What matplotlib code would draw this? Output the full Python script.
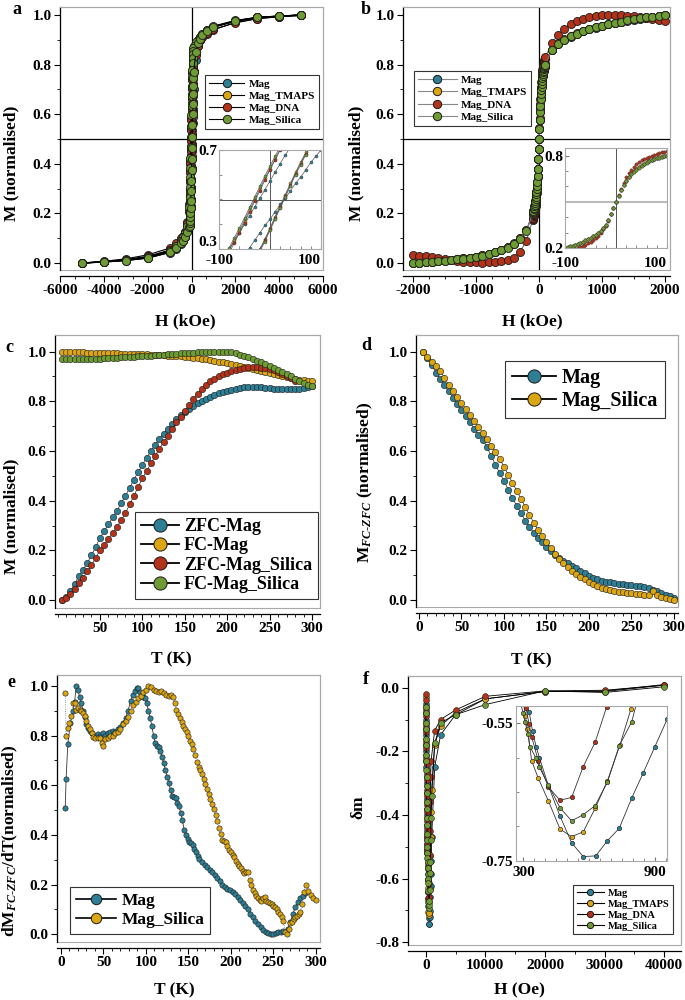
import matplotlib
matplotlib.use("Agg")
import matplotlib.pyplot as plt
from matplotlib.lines import Line2D
from matplotlib.patches import Rectangle
from matplotlib.ticker import AutoMinorLocator, MultipleLocator

plt.rcParams["font.family"] = ["Liberation Serif", "DejaVu Serif"]
plt.rcParams["font.weight"] = "bold"
plt.rcParams["axes.labelweight"] = "bold"
plt.rcParams["axes.unicode_minus"] = False
plt.rcParams["mathtext.fontset"] = "custom"
plt.rcParams["mathtext.rm"] = "Liberation Serif:bold"
plt.rcParams["mathtext.it"] = "Liberation Serif:italic:bold"
plt.rcParams["mathtext.bf"] = "Liberation Serif:bold"

# sample colours
C_MAG = "#2E7F95"
C_TMA = "#DCA512"
C_DNA = "#B3331A"
C_SIL = "#6E9B33"
GREY = "#a8a8a8"

samples = ["Mag", "Mag_TMAPS", "Mag_DNA", "Mag_Silica"]
sample_colors = [C_MAG, C_TMA, C_DNA, C_SIL]

# ---------------- (a) hysteresis loops ----------------
ha_down = [5000, 4000, 3000, 2000, 1000, 700, 500, 400, 300, 200,
           100, 90, 80, 70, 60, 50, 40, 30, 20, 10, 0,
           -10, -20, -30, -40, -50, -60, -70, -80, -90, -100,
           -200, -300, -400, -500, -700, -1000, -2000, -3000, -4000, -5000]
ha_up = [-5000, -4000, -3000, -2000, -1000, -700, -500, -400, -300, -200,
         -100, -90, -80, -70, -60, -50, -40, -30, -20, -10, 0,
         10, 20, 30, 40, 50, 60, 70, 80, 90, 100,
         200, 300, 400, 500, 700, 1000, 2000, 3000, 4000, 5000]

ma_mag_down = [1.0, 0.995, 0.988, 0.975, 0.95, 0.935, 0.92, 0.905, 0.89, 0.865,
               0.835, 0.82, 0.805, 0.785, 0.765, 0.74, 0.71, 0.68, 0.645, 0.61, 0.575,
               0.54, 0.505, 0.47, 0.435, 0.4, 0.365, 0.33, 0.3, 0.27, 0.24,
               0.165, 0.125, 0.105, 0.09, 0.07, 0.05, 0.024, 0.012, 0.005, 0.0]
ma_mag_up = [0.0, 0.004, 0.01, 0.02, 0.042, 0.058, 0.076, 0.09, 0.105, 0.13,
             0.16, 0.18, 0.2, 0.22, 0.25, 0.275, 0.305, 0.335, 0.365, 0.395, 0.42,
             0.45, 0.48, 0.505, 0.535, 0.565, 0.59, 0.62, 0.65, 0.675, 0.7,
             0.82, 0.875, 0.9, 0.915, 0.935, 0.952, 0.975, 0.99, 0.995, 1.0]
ma_tma_down = [1.0, 0.995, 0.99, 0.977, 0.953, 0.938, 0.922, 0.91, 0.897, 0.885,
               0.87, 0.86, 0.848, 0.833, 0.815, 0.795, 0.77, 0.74, 0.705, 0.665, 0.625,
               0.585, 0.543, 0.5, 0.458, 0.415, 0.375, 0.335, 0.295, 0.255, 0.215,
               0.155, 0.12, 0.1, 0.088, 0.068, 0.048, 0.024, 0.012, 0.005, 0.0]
ma_tma_up = [0.0, 0.004, 0.011, 0.021, 0.044, 0.061, 0.08, 0.092, 0.107, 0.128,
             0.15, 0.155, 0.163, 0.175, 0.19, 0.205, 0.228, 0.26, 0.3, 0.34, 0.385,
             0.43, 0.475, 0.52, 0.565, 0.61, 0.65, 0.69, 0.722, 0.75, 0.775,
             0.848, 0.882, 0.903, 0.918, 0.936, 0.951, 0.976, 0.99, 0.996, 0.998]
ma_dna_down = [0.998, 0.993, 0.985, 0.97, 0.94, 0.925, 0.91, 0.9, 0.88, 0.87,
               0.86, 0.852, 0.842, 0.83, 0.812, 0.792, 0.768, 0.738, 0.7, 0.66, 0.62,
               0.578, 0.535, 0.492, 0.45, 0.407, 0.365, 0.325, 0.285, 0.245, 0.205,
               0.16, 0.125, 0.11, 0.1, 0.08, 0.06, 0.033, 0.017, 0.007, 0.0]
ma_dna_up = [0.0, 0.006, 0.014, 0.027, 0.052, 0.068, 0.088, 0.1, 0.112, 0.13,
             0.148, 0.155, 0.162, 0.172, 0.185, 0.2, 0.222, 0.255, 0.295, 0.335, 0.38,
             0.425, 0.47, 0.515, 0.56, 0.605, 0.645, 0.685, 0.72, 0.748, 0.772,
             0.84, 0.875, 0.898, 0.912, 0.928, 0.942, 0.968, 0.985, 0.993, 0.998]
ma_sil_down = [1.0, 0.996, 0.99, 0.978, 0.955, 0.94, 0.925, 0.912, 0.9, 0.89,
               0.875, 0.865, 0.855, 0.842, 0.825, 0.805, 0.78, 0.75, 0.715, 0.675, 0.635,
               0.595, 0.553, 0.51, 0.468, 0.425, 0.385, 0.345, 0.305, 0.265, 0.225,
               0.15, 0.12, 0.105, 0.09, 0.07, 0.05, 0.025, 0.013, 0.006, 0.0]
ma_sil_up = [0.0, 0.004, 0.01, 0.02, 0.043, 0.06, 0.08, 0.09, 0.105, 0.125,
             0.145, 0.15, 0.16, 0.17, 0.185, 0.2, 0.22, 0.25, 0.29, 0.33, 0.375,
             0.42, 0.465, 0.51, 0.555, 0.6, 0.64, 0.68, 0.715, 0.745, 0.77,
             0.85, 0.885, 0.905, 0.92, 0.937, 0.952, 0.975, 0.99, 0.995, 1.0]

# ---------------- (b) magnetisation curves ----------------
hb = [-2000, -1900, -1800, -1700, -1600, -1500, -1400, -1300, -1200, -1100,
      -1000, -900, -800, -700, -600, -500, -400, -300, -200,
      -100, -95, -90, -85, -80, -75, -70, -65, -60, -55,
      -50, -45, -40, -35, -30, -25, -20, -15, -10, -5,
      0, 5, 10, 15, 20, 25, 30, 35, 40, 45,
      50, 55, 60, 65, 70, 75, 80, 85, 90, 95, 100,
      200, 300, 400, 500, 600, 700, 800, 900, 1000,
      1100, 1200, 1300, 1400, 1500, 1600, 1700, 1800, 1900, 2000]
mb_mag = [0.0, 0.002, 0.004, 0.006, 0.008, 0.011, 0.013, 0.016, 0.019, 0.022,
          0.026, 0.031, 0.037, 0.044, 0.053, 0.064, 0.079, 0.1, 0.133,
          0.2, 0.205, 0.21, 0.215, 0.221, 0.227, 0.234, 0.241, 0.249, 0.257,
          0.266, 0.276, 0.286, 0.297, 0.31, 0.327, 0.35, 0.38, 0.42, 0.46,
          0.5, 0.539, 0.576, 0.608, 0.637, 0.661, 0.682, 0.698, 0.712, 0.725,
          0.737, 0.747, 0.757, 0.764, 0.771, 0.777, 0.783, 0.788, 0.793, 0.797, 0.801,
          0.857, 0.882, 0.9, 0.913, 0.924, 0.934, 0.942, 0.949, 0.956,
          0.962, 0.967, 0.972, 0.977, 0.981, 0.985, 0.989, 0.993, 0.996, 0.999]
mb_tma = [0.0, 0.002, 0.004, 0.006, 0.008, 0.01, 0.013, 0.016, 0.019, 0.022,
          0.026, 0.031, 0.037, 0.044, 0.053, 0.063, 0.078, 0.1, 0.132,
          0.198, 0.203, 0.208, 0.214, 0.22, 0.226, 0.233, 0.24, 0.248, 0.256,
          0.265, 0.275, 0.285, 0.297, 0.31, 0.327, 0.35, 0.38, 0.42, 0.46,
          0.5, 0.54, 0.578, 0.611, 0.64, 0.664, 0.685, 0.701, 0.715, 0.728,
          0.74, 0.749, 0.758, 0.766, 0.773, 0.779, 0.785, 0.79, 0.795, 0.799, 0.803,
          0.86, 0.885, 0.902, 0.915, 0.926, 0.936, 0.944, 0.951, 0.957,
          0.963, 0.968, 0.973, 0.978, 0.982, 0.986, 0.99, 0.993, 0.996, 0.999]
mb_dna = [0.032, 0.03, 0.027, 0.024, 0.02, 0.016, 0.012, 0.009, 0.006, 0.004,
          0.003, 0.002, 0.003, 0.005, 0.008, 0.013, 0.022, 0.045, 0.09,
          0.175, 0.179, 0.183, 0.188, 0.193, 0.199, 0.205, 0.212, 0.22, 0.23,
          0.24, 0.252, 0.265, 0.281, 0.3, 0.321, 0.345, 0.378, 0.42, 0.46,
          0.5, 0.543, 0.585, 0.625, 0.66, 0.688, 0.71, 0.729, 0.745, 0.758,
          0.77, 0.779, 0.787, 0.794, 0.8, 0.806, 0.812, 0.817, 0.822, 0.826, 0.83,
          0.885, 0.92, 0.945, 0.962, 0.975, 0.985, 0.992, 0.997, 1.0,
          1.0, 1.0, 0.999, 0.997, 0.995, 0.992, 0.988, 0.984, 0.98, 0.976]
mb_sil = [0.0, 0.002, 0.004, 0.006, 0.008, 0.01, 0.012, 0.015, 0.018, 0.021,
          0.025, 0.03, 0.036, 0.043, 0.052, 0.062, 0.077, 0.098, 0.13,
          0.2, 0.205, 0.21, 0.216, 0.222, 0.228, 0.235, 0.242, 0.25, 0.258,
          0.267, 0.277, 0.287, 0.298, 0.31, 0.327, 0.35, 0.38, 0.42, 0.46,
          0.5, 0.54, 0.575, 0.607, 0.635, 0.66, 0.68, 0.696, 0.71, 0.723,
          0.735, 0.745, 0.755, 0.763, 0.77, 0.776, 0.782, 0.787, 0.792, 0.796, 0.8,
          0.858, 0.883, 0.9, 0.914, 0.925, 0.935, 0.943, 0.95, 0.957,
          0.963, 0.968, 0.973, 0.978, 0.982, 0.986, 0.99, 0.993, 0.996, 1.0]

# ---------------- (c) ZFC / FC ----------------
tc = [5, 10, 15, 20, 25, 30, 35, 40, 45, 50,
      55, 60, 65, 70, 75, 80, 85, 90, 95, 100,
      105, 110, 115, 120, 125, 130, 135, 140, 145, 150,
      155, 160, 165, 170, 175, 180, 185, 190, 195, 200,
      205, 210, 215, 220, 225, 230, 235, 240, 245, 250,
      255, 260, 265, 270, 275, 280, 285, 290, 295, 300]
zfc_mag = [0.0, 0.012, 0.035, 0.065, 0.095, 0.122, 0.15, 0.18, 0.215, 0.25,
           0.278, 0.305, 0.333, 0.36, 0.39, 0.42, 0.452, 0.485, 0.515, 0.545,
           0.573, 0.6, 0.625, 0.648, 0.67, 0.69, 0.71, 0.728, 0.743, 0.757,
           0.77, 0.782, 0.792, 0.802, 0.81, 0.818, 0.826, 0.833, 0.838, 0.843,
           0.847, 0.85, 0.853, 0.856, 0.857, 0.858, 0.857, 0.856, 0.854, 0.853,
           0.851, 0.85, 0.849, 0.849, 0.849, 0.85, 0.851, 0.853, 0.856, 0.86]
fc_mag = [1.0, 0.999, 0.998, 0.998, 0.997, 0.997, 0.996, 0.996, 0.995, 0.995,
          0.994, 0.994, 0.993, 0.993, 0.992, 0.992, 0.991, 0.991, 0.99, 0.99,
          0.989, 0.988, 0.987, 0.986, 0.985, 0.984, 0.983, 0.982, 0.981, 0.98,
          0.978, 0.976, 0.974, 0.971, 0.969, 0.966, 0.963, 0.96, 0.957, 0.953,
          0.95, 0.946, 0.943, 0.939, 0.935, 0.931, 0.927, 0.922, 0.918, 0.913,
          0.909, 0.905, 0.901, 0.897, 0.893, 0.89, 0.887, 0.885, 0.882, 0.88]
zfc_sil = [0.0, 0.008, 0.025, 0.045, 0.068, 0.09, 0.115, 0.14, 0.17, 0.2,
           0.222, 0.245, 0.27, 0.295, 0.322, 0.35, 0.385, 0.42, 0.455, 0.49,
           0.52, 0.55, 0.58, 0.61, 0.635, 0.66, 0.688, 0.715, 0.738, 0.76,
           0.785, 0.81, 0.83, 0.85, 0.865, 0.88, 0.89, 0.9, 0.908, 0.915,
           0.922, 0.928, 0.932, 0.936, 0.937, 0.938, 0.937, 0.935, 0.933, 0.93,
           0.925, 0.92, 0.912, 0.903, 0.893, 0.88]
fc_sil = [0.97, 0.97, 0.97, 0.97, 0.97, 0.97, 0.97, 0.971, 0.971, 0.972,
          0.973, 0.974, 0.975, 0.976, 0.977, 0.978, 0.979, 0.98, 0.981, 0.982,
          0.983, 0.984, 0.986, 0.987, 0.988, 0.99, 0.991, 0.992, 0.993, 0.994,
          0.995, 0.996, 0.997, 0.998, 0.998, 0.999, 0.999, 0.999, 0.999, 1.0,
          0.998, 0.993, 0.988, 0.983, 0.977, 0.971, 0.964, 0.957, 0.95, 0.943,
          0.935, 0.927, 0.918, 0.909, 0.9, 0.891, 0.882, 0.874, 0.866, 0.86]

# ---------------- (d) FC - ZFC ----------------
d_mag = [1.0, 0.975, 0.945, 0.915, 0.89, 0.865, 0.84, 0.815, 0.79, 0.765,
         0.74, 0.715, 0.69, 0.665, 0.645, 0.615, 0.58, 0.545, 0.51, 0.48,
         0.445, 0.41, 0.38, 0.35, 0.32, 0.295, 0.27, 0.25, 0.232, 0.215,
         0.198, 0.183, 0.17, 0.158, 0.148, 0.138, 0.128, 0.118, 0.108, 0.098,
         0.09, 0.083, 0.078, 0.074, 0.071, 0.068, 0.065, 0.063, 0.061, 0.059,
         0.057, 0.055, 0.052, 0.048, 0.042, 0.035, 0.028, 0.022, 0.016, 0.01]
d_sil = [1.0, 0.978, 0.96, 0.942, 0.922, 0.895, 0.866, 0.84, 0.816, 0.793,
         0.77, 0.745, 0.72, 0.697, 0.673, 0.648, 0.622, 0.595, 0.567, 0.537,
         0.505, 0.472, 0.44, 0.408, 0.375, 0.343, 0.312, 0.283, 0.256, 0.232,
         0.208, 0.186, 0.166, 0.148, 0.132, 0.118, 0.105, 0.093, 0.083, 0.074,
         0.065, 0.057, 0.05, 0.044, 0.04, 0.036, 0.033, 0.031, 0.029, 0.027,
         0.025, 0.023, 0.021, 0.02, 0.035, 0.02, 0.013, 0.008, 0.004, 0.0]

# ---------------- (e) derivative ----------------
te_mag = [5, 6, 8, 11, 14, 16, 18, 20, 22, 24,
          26, 28, 30, 32, 34, 37, 40, 43, 46, 49,
          52, 55, 58, 61, 64, 67, 70, 73, 76, 79,
          82, 85, 87, 89, 91, 93, 95, 97, 99, 101,
          103, 105, 107, 109, 111, 113, 115, 117, 119, 121,
          123, 125, 127, 129, 131, 133, 135, 137, 139, 141,
          143, 145, 147, 149, 151, 153, 155, 157, 159, 161,
          163, 166, 169, 172, 175, 178, 181, 184, 187, 190,
          193, 196, 199, 202, 205, 208, 211, 214, 217, 220,
          223, 226, 229, 232, 235, 238, 241, 244, 247, 250,
          253, 256, 259, 262, 265, 267, 270, 273, 276, 279,
          282, 285, 287]
e_mag = [0.51, 0.625, 0.765, 0.85, 0.9, 0.935, 1.0, 0.985, 0.955, 0.93,
         0.9, 0.875, 0.845, 0.83, 0.82, 0.81, 0.8, 0.805, 0.8, 0.81,
         0.8, 0.81, 0.815, 0.82, 0.815, 0.825, 0.835, 0.85, 0.87, 0.9,
         0.94, 0.965, 0.98, 0.99, 0.99, 0.975, 0.96, 0.955, 0.95, 0.93,
         0.9, 0.87, 0.84, 0.8, 0.77, 0.76, 0.755, 0.74, 0.715, 0.69,
         0.66, 0.635, 0.61, 0.58, 0.556, 0.552, 0.548, 0.53, 0.515, 0.49,
         0.46, 0.42, 0.4, 0.385, 0.37, 0.366, 0.36, 0.345, 0.33, 0.315,
         0.305, 0.29, 0.28, 0.27, 0.26, 0.25, 0.24, 0.228, 0.215, 0.2,
         0.19, 0.182, 0.178, 0.172, 0.162, 0.152, 0.14, 0.128, 0.115, 0.1,
         0.083, 0.068, 0.055, 0.04, 0.028, 0.018, 0.01, 0.004, 0.0, 0.001,
         0.004, 0.008, 0.01, 0.012, 0.012, 0.02, 0.05, 0.08, 0.11, 0.13,
         0.145, 0.155, 0.165]
te_sil = [5, 6, 8, 10, 12, 14, 16, 18, 20, 22,
          24, 26, 28, 30, 32, 34, 36, 38, 40, 43,
          46, 48, 50, 52, 55, 58, 61, 64, 67, 70,
          73, 76, 79, 82, 85, 88, 91, 94, 97, 100,
          103, 106, 109, 112, 115, 118, 121, 124, 127, 130,
          132, 134, 136, 138, 140, 142, 144, 146, 148, 150,
          152, 154, 156, 158, 160, 162, 164, 166, 168, 170,
          172, 174, 176, 178, 180, 182, 184, 186, 188, 190,
          192, 194, 196, 198, 200, 202, 204, 206, 208, 210,
          212, 214, 216, 218, 220, 222, 224, 226, 228, 230,
          232, 234, 236, 238, 240, 242, 244, 246, 248, 250,
          252, 254, 256, 258, 260, 262, 264, 266, 268, 270,
          272, 274, 276, 278, 280, 282, 284, 286, 288, 291,
          294, 297, 300]
e_sil = [0.97, 0.8, 0.83, 0.85, 0.88, 0.93, 0.93, 0.905, 0.91, 0.905,
         0.9, 0.89, 0.88, 0.86, 0.84, 0.825, 0.81, 0.795, 0.79, 0.79,
         0.79, 0.77, 0.76, 0.785, 0.79, 0.8, 0.8, 0.81, 0.815, 0.825,
         0.845, 0.86, 0.875, 0.9, 0.925, 0.935, 0.95, 0.96, 0.975, 0.985,
         1.0, 0.995, 0.985, 0.98, 0.975, 0.98, 0.97, 0.965, 0.96, 0.965,
         0.955, 0.93, 0.905, 0.885, 0.87, 0.855, 0.84, 0.825, 0.815, 0.8,
         0.78, 0.765, 0.745, 0.72, 0.695, 0.675, 0.66, 0.645, 0.625, 0.605,
         0.585, 0.565, 0.545, 0.525, 0.505, 0.48, 0.455, 0.43, 0.405, 0.38,
         0.375, 0.37, 0.355, 0.34, 0.33, 0.32, 0.31, 0.295, 0.285, 0.275,
         0.265, 0.255, 0.245, 0.25, 0.25, 0.22, 0.2, 0.18, 0.165, 0.155,
         0.145, 0.14, 0.135, 0.145, 0.15, 0.135, 0.13, 0.125, 0.12, 0.115,
         0.11, 0.1, 0.09, 0.08, 0.07, 0.055, 0.01, 0.0, 0.02, 0.045,
         0.05, 0.06, 0.07, 0.075, 0.08, 0.09, 0.12, 0.17, 0.2, 0.175,
         0.16, 0.145, 0.14]

# ---------------- (f) delta-m ----------------
hf_mag = [0, 15, 30, 45, 60, 75, 90, 105, 120, 135, 150, 165, 180, 195, 210,
          225, 240, 255, 270, 285, 300,
          326, 342, 358, 373, 414, 467, 520, 573, 630, 683, 737, 794, 847, 900, 956,
          1000, 1500, 2500, 5000, 10000, 20000, 30000, 40000]
dm_mag = [-0.05, -0.08, -0.1, -0.13, -0.15, -0.18, -0.2, -0.23, -0.25, -0.28, -0.3,
          -0.33, -0.35, -0.38, -0.4, -0.43, -0.45, -0.47, -0.49, -0.51, -0.52,
          -0.533, -0.562, -0.584, -0.6, -0.641, -0.685, -0.724, -0.744, -0.743,
          -0.721, -0.703, -0.659, -0.622, -0.584, -0.544,
          -0.47, -0.25, -0.148, -0.085, -0.035, -0.012, -0.012, 0.008]
hf_tma = [0, 15, 30, 45, 60, 75, 90, 105, 120, 135, 150, 165, 180, 195, 210,
          225, 240, 255, 270, 285, 300,
          309, 318, 338, 368, 414, 467, 520, 573, 627, 683, 740, 790,
          850, 900, 1000, 1500, 2500, 5000, 10000, 20000, 30000, 40000]
dm_tma = [-0.03, -0.06, -0.08, -0.11, -0.13, -0.16, -0.18, -0.21, -0.23, -0.26, -0.28,
          -0.31, -0.33, -0.36, -0.38, -0.41, -0.43, -0.46, -0.48, -0.5, -0.52,
          -0.539, -0.559, -0.605, -0.63, -0.663, -0.704, -0.715, -0.708, -0.674,
          -0.634, -0.582, -0.53,
          -0.47, -0.39, -0.32, -0.18, -0.12, -0.078, -0.035, -0.012, -0.01, 0.01]
hf_dna = [0, 15, 30, 45, 60, 75, 90, 105, 120, 135, 150, 165, 180, 195, 210,
          225, 240, 255, 270, 285, 300,
          312, 326, 338, 368, 414, 467, 520, 573, 627, 680,
          730, 780, 830, 900, 1500, 2500, 5000, 10000, 20000, 30000, 40000]
dm_dna = [-0.02, -0.04, -0.07, -0.09, -0.12, -0.14, -0.17, -0.19, -0.22, -0.24, -0.27,
          -0.29, -0.32, -0.34, -0.37, -0.39, -0.42, -0.44, -0.47, -0.49, -0.51,
          -0.528, -0.551, -0.57, -0.605, -0.643, -0.662, -0.658, -0.613, -0.578, -0.526,
          -0.45, -0.36, -0.28, -0.23, -0.135, -0.1, -0.07, -0.027, -0.01, -0.008, 0.008]
hf_sil = [0, 15, 30, 45, 60, 75, 90, 105, 120, 135, 150, 165, 180, 195, 210,
          225, 240, 255, 270, 285, 300,
          307, 322, 330, 356, 373, 414, 467, 520, 573, 627, 683, 737, 794,
          850, 900, 1000, 1500, 2500, 5000, 10000, 20000, 30000, 40000]
dm_sil = [-0.06, -0.08, -0.11, -0.13, -0.16, -0.18, -0.21, -0.23, -0.26, -0.28, -0.31,
          -0.33, -0.36, -0.38, -0.41, -0.43, -0.46, -0.48, -0.5, -0.52, -0.535,
          -0.548, -0.565, -0.584, -0.6, -0.614, -0.64, -0.673, -0.692, -0.683,
          -0.67, -0.636, -0.583, -0.548,
          -0.48, -0.41, -0.34, -0.175, -0.11, -0.085, -0.053, -0.01, -0.015, 0.003]


fig = plt.figure(figsize=(6.85, 10), dpi=100)


def px_rect(l, t, r, b):
    # pixel box -> figure fraction
    return [l / 685, 1 - b / 1000, (r - l) / 685, (b - t) / 1000]


def style_main(ax, xlim, ylim, xminor, ystep=0.2):
    ax.set_xlim(*xlim)
    ax.set_ylim(*ylim)
    ax.xaxis.set_minor_locator(AutoMinorLocator(xminor))
    ax.yaxis.set_major_locator(MultipleLocator(ystep))
    ax.yaxis.set_minor_locator(AutoMinorLocator(2))
    ax.spines["top"].set_color(GREY)
    ax.spines["right"].set_color(GREY)
    ax.spines["bottom"].set_position(("outward", 4))
    for s in ["left", "bottom"]:
        ax.spines[s].set_linewidth(0.9)
    ax.add_patch(Rectangle((0, 0), 1, 1, transform=ax.transAxes, fill=False,
                           ec=GREY, lw=0.8, clip_on=False, zorder=0))
    ax.tick_params(which="major", direction="out", length=4, width=0.8,
                   labelsize=11, pad=2)
    ax.tick_params(which="minor", direction="out", length=2.3, width=0.6)


def set_labels(ax, xl, yl, xpos, ypos):
    ax.set_xlabel(xl, fontsize=12.5)
    ax.set_ylabel(yl, fontsize=12.5)
    ax.xaxis.set_label_coords(*xpos)
    ax.yaxis.set_label_coords(*ypos)
    ax.xaxis.label.set_va("center")
    ax.yaxis.label.set_va("center")


def style_inset(ax, xlim, ylim, xt, yt, xmin, ymin, xpad=4):
    ax.set_xlim(*xlim)
    ax.set_ylim(*ylim)
    for s in ax.spines.values():
        s.set_color(GREY)
        s.set_linewidth(0.8)
    ax.set_xticks(xt)
    ax.set_yticks(yt)
    ax.xaxis.set_minor_locator(MultipleLocator(xmin))
    ax.yaxis.set_minor_locator(MultipleLocator(ymin))
    ax.tick_params(which="both", direction="in", color="#777777", labelsize=11, pad=1.5)
    ax.tick_params(axis="x", which="both", pad=xpad)
    ax.tick_params(which="major", length=3)
    ax.tick_params(which="minor", length=2)


def add_legend(ax, handles, labels, x, y, size, hl, ls, hp=0.4):
    leg = ax.legend(handles, labels, loc="upper left", bbox_to_anchor=(x / 685, 1 - y / 1000),
                    bbox_transform=fig.transFigure, fontsize=size, fancybox=False,
                    edgecolor="#333333", framealpha=1, borderaxespad=0, handlelength=hl,
                    labelspacing=ls, handletextpad=hp, borderpad=0.35)
    leg.get_frame().set_linewidth(0.8)
    leg.set_zorder(10)
    return leg


def handle(col, ms, lc="k", lw=1.0):
    return Line2D([], [], color=lc, lw=lw, marker="o", ms=ms, mfc=col, mec="#1a1a1a", mew=0.7)


# ================= panel a =================
ax = fig.add_axes(px_rect(60, 7, 323, 270))
ax.axvline(0, color="k", lw=0.9, zorder=1)
ax.axhline(0.5, color="k", lw=0.9, zorder=1)
loops_a = [(ma_mag_down, ma_mag_up), (ma_tma_down, ma_tma_up),
           (ma_dna_down, ma_dna_up), (ma_sil_down, ma_sil_up)]
for col, (md, mu) in zip(sample_colors, loops_a):
    for hh, mm in [(ha_down, md), (ha_up, mu)]:
        ax.plot(hh, mm, "-o", color="k", lw=0.8, ms=5.8, mfc=col, mec="#1a1a1a",
                mew=0.6, zorder=3)
ax.xaxis.set_major_locator(MultipleLocator(2000))
style_main(ax, (-6000, 6000), (-0.028, 1.032), 3)
set_labels(ax, "H (kOe)", "M (normalised)", (0.475, -0.197), (-0.183, 0.407))
add_legend(ax, [handle(c, 6, "k", 0.8) for c in sample_colors], samples,
           205, 75, 8, 3.2, 0.22)

ins = fig.add_axes(px_rect(219, 150, 321, 249))
ins.axvline(0, color="#555555", lw=0.7)
ins.axhline(0.5, color="#555555", lw=0.7)
for col, (md, mu) in zip(sample_colors, loops_a):
    for hh, mm in [(ha_down, md), (ha_up, mu)]:
        ins.plot(hh, mm, "-o", color="#555555", lw=0.5, ms=2.2, mfc=col,
                 mec="#333333", mew=0.3)
style_inset(ins, (-100, 100), (0.3, 0.7), [-100, 100], [0.3, 0.7], 20, 0.1, xpad=3.5)
ins.get_xticklabels()[-1].set_ha("right")
ins.get_yticklabels()[0].set_va("bottom")

# ================= panel b =================
ax = fig.add_axes(px_rect(403, 7, 670, 270))
ax.axvline(0, color="k", lw=0.9, zorder=1)
ax.axhline(0.5, color="k", lw=0.9, zorder=1)
curves_b = [mb_mag, mb_tma, mb_dna, mb_sil]
for col, mm in zip(sample_colors, curves_b):
    ax.plot(hb, mm, "-o", color="#777777", lw=0.8, ms=5.8, mfc=col, mec="#1a1a1a",
            mew=0.6, zorder=3)
ax.xaxis.set_major_locator(MultipleLocator(1000))
style_main(ax, (-2159, 2079), (-0.028, 1.032), 4)
set_labels(ax, "H (kOe)", "M (normalised)", (0.483, -0.197), (-0.173, 0.407))
add_legend(ax, [handle(c, 6, "#888888", 0.8) for c in sample_colors], samples,
           414, 71, 8, 3.5, 0.25)

ins = fig.add_axes(px_rect(565, 148, 667, 248))
ins.axvline(0, color="#555555", lw=0.7)
ins.axhline(0.5, color="#bbbbbb", lw=1.5)
for col, mm in zip(sample_colors, curves_b):
    ins.plot(hb, mm, "o", ms=2.4, mfc=col, mec="#333333", mew=0.3)
style_inset(ins, (-100, 100), (0.2, 0.85), [-100, 100], [0.2, 0.8], 20, 0.1, xpad=6.5)
ins.get_xticklabels()[-1].set_ha("right")

# ================= panel c =================
ax = fig.add_axes(px_rect(55, 335, 320, 608))
series_c = [(tc, zfc_mag, C_MAG), (tc, fc_mag, C_TMA),
            (tc[:len(zfc_sil)], zfc_sil, C_DNA), (tc, fc_sil, C_SIL)]
for tt, mm, col in series_c:
    ax.plot(tt, mm, "-o", color="k", lw=0.4, ms=4.6, mfc=col, mec="#1a1a1a", mew=0.4)
ax.set_xticks([50, 100, 150, 200, 250, 300])
style_main(ax, (-3, 309.4), (-0.032, 1.067), 5)
set_labels(ax, "T (K)", "M (normalised)", (0.44, -0.19), (-0.163, 0.335))
add_legend(ax, [handle(c, 9.5, "k", 1.3) for c in sample_colors],
           ["ZFC-Mag", "FC-Mag", "ZFC-Mag_Silica", "FC-Mag_Silica"],
           135, 512, 13, 2.1, 0.12, 0.25)

# ================= panel d =================
ax = fig.add_axes(px_rect(416, 335, 678, 607))
ax.plot(tc, d_mag, "-o", color="k", lw=0.4, ms=4.6, mfc=C_MAG, mec="#1a1a1a", mew=0.4)
ax.plot(tc, d_sil, "-o", color="k", lw=0.4, ms=4.6, mfc=C_TMA, mec="#1a1a1a", mew=0.4)
ax.xaxis.set_major_locator(MultipleLocator(50))
style_main(ax, (-3.5, 304.7), (-0.028, 1.067), 5)
set_labels(ax, "T (K)", r"M$_{FC\text{-}ZFC}$ (normalised)", (0.44, -0.195), (-0.195, 0.456))
add_legend(ax, [handle(C_MAG, 9.5, "k", 1.3), handle(C_TMA, 9.5, "k", 1.3)],
           ["Mag", "Mag_Silica"], 505, 361, 14.5, 2.2, 0.15, 0.25)

# ================= panel e =================
ax = fig.add_axes(px_rect(57, 675, 320, 942))
ax.plot(te_mag, e_mag, "-o", color="#333333", lw=0.6, ms=3.8, mfc=C_MAG, mec="#1a1a1a", mew=0.4)
ax.plot(te_sil, e_sil, ":o", color="#777777", lw=0.6, ms=3.8, mfc=C_TMA, mec="#1a1a1a", mew=0.4)
ax.xaxis.set_major_locator(MultipleLocator(50))
style_main(ax, (-4.7, 305), (-0.031, 1.044), 5)
set_labels(ax, "T (K)", r"dM$_{FC\text{-}ZFC}$/dT(normalised)", (0.445, -0.18), (-0.179, 0.378))
add_legend(ax, [handle(C_MAG, 7.5, "k", 1.2), handle(C_TMA, 7.5, "k", 1.2)],
           ["Mag", "Mag_Silica"], 70, 887, 12.5, 2.3, 0.15, 0.3)

# ================= panel f =================
ax = fig.add_axes(px_rect(408, 676, 681, 945))
series_f = [(hf_mag, dm_mag), (hf_tma, dm_tma), (hf_dna, dm_dna), (hf_sil, dm_sil)]
for col, (hh, dd) in zip(sample_colors, series_f):
    ax.plot(hh, dd, "-o", color="k", lw=0.6, ms=4.2, mfc=col, mec="#1a1a1a", mew=0.4)
ax.xaxis.set_major_locator(MultipleLocator(10000))
style_main(ax, (-2967, 42800), (-0.8085, 0.0368), 2)
set_labels(ax, "H (Oe)", "δm", (0.41, -0.167), (-0.18, 0.514))
add_legend(ax, [handle(c, 4.5, "k", 0.8) for c in sample_colors], samples,
           573, 885, 7.5, 2.6, 0.16)

ins = fig.add_axes(px_rect(515.7, 706, 667, 860.7))
for col, (hh, dd) in zip(sample_colors, series_f):
    ins.plot(hh, dd, "-o", color="#333333", lw=0.6, ms=3.2, mfc=col, mec="#1a1a1a", mew=0.4)
style_inset(ins, (265, 955), (-0.75, -0.525), [300, 900], [-0.55, -0.75], 50, 0.05)

# panel letters
for letter, x, y in [("a", 0.0244, 0.9905), ("b", 0.534, 0.991), ("c", 0.0141, 0.6525),
                     ("d", 0.5345, 0.655), ("e", 0.016, 0.3175), ("f", 0.5345, 0.321)]:
    fig.text(x, y, letter, fontsize=13, fontweight="bold", ha="center", va="center")

fig.savefig("out.png", dpi=100)
